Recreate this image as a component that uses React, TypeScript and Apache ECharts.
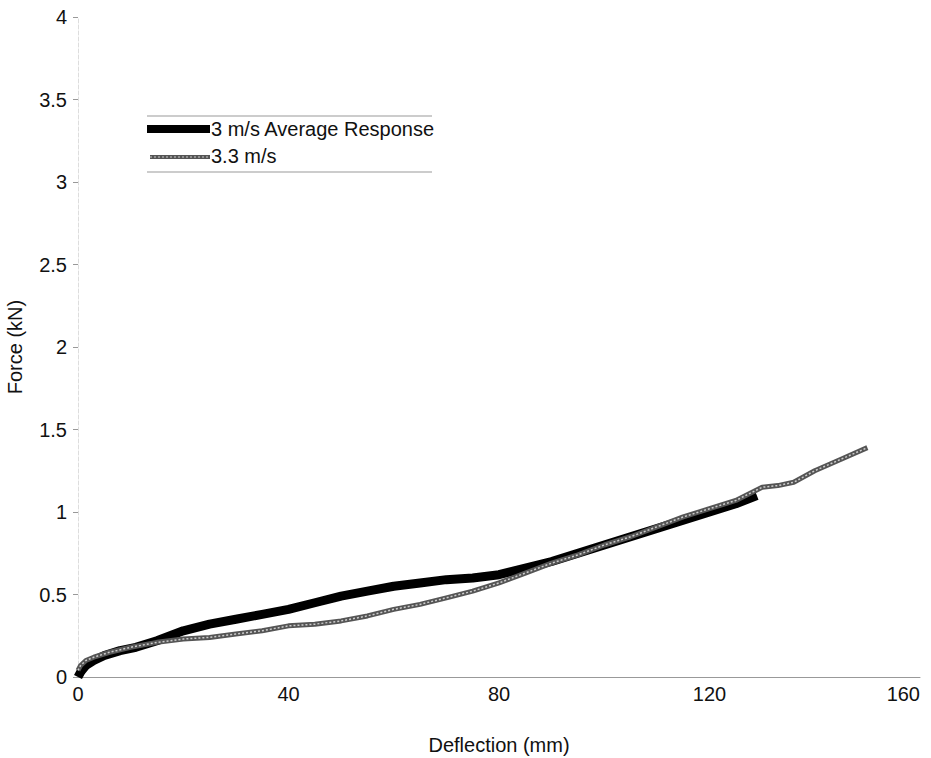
import React, { useEffect, useRef } from "react";
import * as echarts from "echarts";

const avgX = [0, 0.5, 1.5, 3, 5, 8, 11, 15, 20, 25, 30, 35, 40, 45, 50, 55, 60, 65, 70, 75, 80, 85, 90, 95, 100, 105, 110, 115, 120, 125, 129];
const avgY = [0, 0.03, 0.07, 0.1, 0.13, 0.16, 0.18, 0.22, 0.28, 0.32, 0.35, 0.38, 0.41, 0.45, 0.49, 0.52, 0.55, 0.57, 0.59, 0.6, 0.62, 0.66, 0.7, 0.75, 0.8, 0.85, 0.9, 0.95, 1.0, 1.05, 1.1];

const v33X = [0, 0.5, 1.5, 3, 6, 10, 15, 20, 25, 30, 35, 40, 45, 50, 55, 60, 65, 70, 75, 80, 85, 90, 95, 100, 105, 110, 115, 120, 125, 130, 133, 136, 140, 145, 150];
const v33Y = [0.04, 0.07, 0.1, 0.12, 0.15, 0.18, 0.21, 0.23, 0.24, 0.26, 0.28, 0.31, 0.32, 0.34, 0.37, 0.41, 0.44, 0.48, 0.52, 0.57, 0.63, 0.69, 0.74, 0.8, 0.85, 0.91, 0.97, 1.02, 1.07, 1.15, 1.16, 1.18, 1.25, 1.32, 1.39];

const seriesNames = ["3 m/s Average Response", "3.3 m/s"];
const xTicks = [0, 40, 80, 120, 160];
const yMax = 4;
const yStep = 0.5;

const FONT = "'Liberation Sans', Arial, sans-serif";
const FS = 20;

export default function App() {
  const ref = useRef<HTMLDivElement>(null);
  useEffect(() => {
    if (!ref.current) return;
    const chart = echarts.init(ref.current, undefined, { renderer: "svg" });
    const avgData = avgX.map((x, i) => [x, avgY[i]]);
    const v33Data = v33X.map((x, i) => [x, v33Y[i]]);
    chart.setOption({
      animation: false,
      backgroundColor: "#fff",
      grid: { left: 78, right: 11, top: 17, bottom: 81, containLabel: false, outerBoundsMode: "none" },
      xAxis: {
        type: "value",
        min: xTicks[0],
        max: xTicks[xTicks.length - 1],
        interval: 40,
        name: "Deflection (mm)",
        nameLocation: "middle",
        nameGap: 58,
        nameTextStyle: { fontFamily: FONT, fontSize: FS, color: "#111" },
        axisLine: { show: true, lineStyle: { color: "#999", width: 1 } },
        axisTick: { show: false },
        axisLabel: { fontFamily: FONT, fontSize: FS, color: "#111", margin: 7, alignMaxLabel: "right" },
        splitLine: { show: false },
      },
      yAxis: {
        type: "value",
        min: 0,
        max: yMax,
        interval: yStep,
        name: "Force (kN)",
        nameLocation: "middle",
        nameGap: 53,
        nameTextStyle: { fontFamily: FONT, fontSize: FS, color: "#111" },
        axisLine: { show: true, lineStyle: { color: "#ddd", width: 1, type: "dashed" } },
        axisTick: { show: true, length: 5, lineStyle: { color: "#999" } },
        axisLabel: { fontFamily: FONT, fontSize: FS, color: "#111", margin: 11 },
        splitLine: { show: false },
      },
      series: [
        {
          name: seriesNames[0],
          type: "line",
          data: avgData,
          showSymbol: false,
          lineStyle: { color: "#000", width: 9 },
          z: 2,
        },
        {
          name: seriesNames[1],
          type: "line",
          data: v33Data,
          showSymbol: false,
          lineStyle: { color: "#555", width: 5 },
          z: 3,
        },
        {
          name: seriesNames[1] + " texture",
          type: "line",
          data: v33Data,
          showSymbol: false,
          lineStyle: { color: "#ccc", width: 1.5, type: [2, 2] },
          z: 4,
        },
      ],
      graphic: [
        { type: "line", shape: { x1: 147, y1: 116, x2: 432, y2: 116 }, style: { stroke: "#999", lineWidth: 1 } },
        { type: "line", shape: { x1: 147, y1: 172, x2: 432, y2: 172 }, style: { stroke: "#999", lineWidth: 1 } },
        { type: "rect", shape: { x: 147, y: 125, width: 63, height: 8 }, style: { fill: "#000" } },
        { type: "text", x: 211, y: 129, style: { text: seriesNames[0], font: FS + "px " + FONT, fill: "#111", verticalAlign: "middle" } },
        { type: "line", shape: { x1: 150, y1: 157, x2: 210, y2: 157 }, style: { stroke: "#555", lineWidth: 4 } },
        { type: "line", shape: { x1: 150, y1: 157, x2: 210, y2: 157 }, style: { stroke: "#ccc", lineWidth: 1.2, lineDash: [2, 2] } },
        { type: "text", x: 211, y: 156, style: { text: seriesNames[1], font: FS + "px " + FONT, fill: "#111", verticalAlign: "middle" } },
      ],
    });
    return () => chart.dispose();
  }, []);
  return <div ref={ref} style={{ width: 931, height: 758, position: "absolute", left: 0, top: 0 }} />;
}
